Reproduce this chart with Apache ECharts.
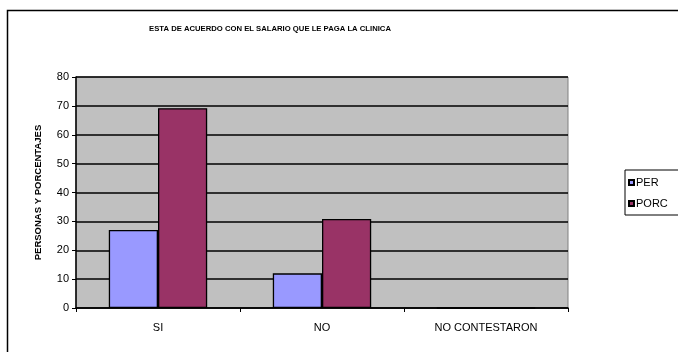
<!DOCTYPE html>
<html>
<head>
<meta charset="utf-8">
<script src="https://cdn.jsdelivr.net/npm/echarts@6/dist/echarts.min.js"></script>
<style>
  html, body { margin: 0; padding: 0; background: #fff; }
  #chart { width: 678px; height: 352px; }
</style>
</head>
<body>
<div id="chart"></div>
<script>
const categories = ['SI', 'NO', 'NO CONTESTARON'];
const perValues = [27, 12, 0];
const porcValues = [69.2, 30.8, 0];
const seriesNames = ['PER', 'PORC'];
const chartTitle = 'ESTA DE ACUERDO CON EL SALARIO QUE LE PAGA LA CLINICA';
const yAxisTitle = 'PERSONAS Y PORCENTAJES';

const chart = echarts.init(document.getElementById('chart'), null, { renderer: 'canvas' });
const font = 'Arial, "Liberation Sans", sans-serif';

chart.setOption({
  animation: false,
  backgroundColor: '#ffffff',
  title: {
    text: chartTitle,
    left: 265,
    textAlign: 'center',
    top: 20,
    textStyle: { fontFamily: font, fontSize: 7.7, fontWeight: 'bold', color: '#000' }
  },
  graphic: [
    {
      type: 'rect',
      shape: { x: 7.5, y: 10.5, width: 720, height: 400 },
      style: { fill: 'none', stroke: '#000', lineWidth: 1.5 },
      silent: true
    }
  ],
  legend: {
    orient: 'vertical',
    left: 625,
    top: 170,
    itemWidth: 5,
    itemHeight: 5,
    itemGap: 10,
    padding: [7, 30, 6, 3],
    borderColor: '#000',
    borderWidth: 1,
    icon: 'rect',
    textStyle: { fontFamily: font, fontSize: 11, color: '#000', padding: [0, 0, 0, -3] },
    data: seriesNames
  },
  grid: {
    left: 76,
    right: 110,
    top: 77,
    bottom: 44,
    show: true,
    backgroundColor: '#c0c0c0',
    borderColor: '#808080',
    borderWidth: 1
  },
  xAxis: {
    type: 'category',
    data: categories,
    axisLine: { lineStyle: { color: '#000', width: 1.5 } },
    axisTick: { show: true, length: 4, lineStyle: { color: '#000' } },
    axisLabel: { fontFamily: font, fontSize: 11, color: '#000', margin: 14 },
    splitLine: { show: false }
  },
  yAxis: {
    type: 'value',
    min: 0,
    max: 80,
    interval: 10,
    name: yAxisTitle,
    nameLocation: 'middle',
    nameGap: 33,
    nameRotate: 90,
    nameTextStyle: { fontFamily: font, fontSize: 9.5, fontWeight: 'bold', color: '#000' },
    axisLine: { show: true, lineStyle: { color: '#000', width: 1.5 } },
    axisTick: { show: true, length: 4, lineStyle: { color: '#000' } },
    axisLabel: { fontFamily: font, fontSize: 11, color: '#000', margin: 7 },
    splitLine: { show: true, lineStyle: { color: '#000', width: 1.5 } }
  },
  series: [
    {
      name: seriesNames[0],
      type: 'bar',
      data: perValues,
      barGap: '0%',
      barCategoryGap: '40%',
      itemStyle: { color: '#9999ff', borderColor: '#000', borderWidth: 1.3 }
    },
    {
      name: seriesNames[1],
      type: 'bar',
      data: porcValues,
      itemStyle: { color: '#993366', borderColor: '#000', borderWidth: 1.3 }
    }
  ]
});
</script>
</body>
</html>
